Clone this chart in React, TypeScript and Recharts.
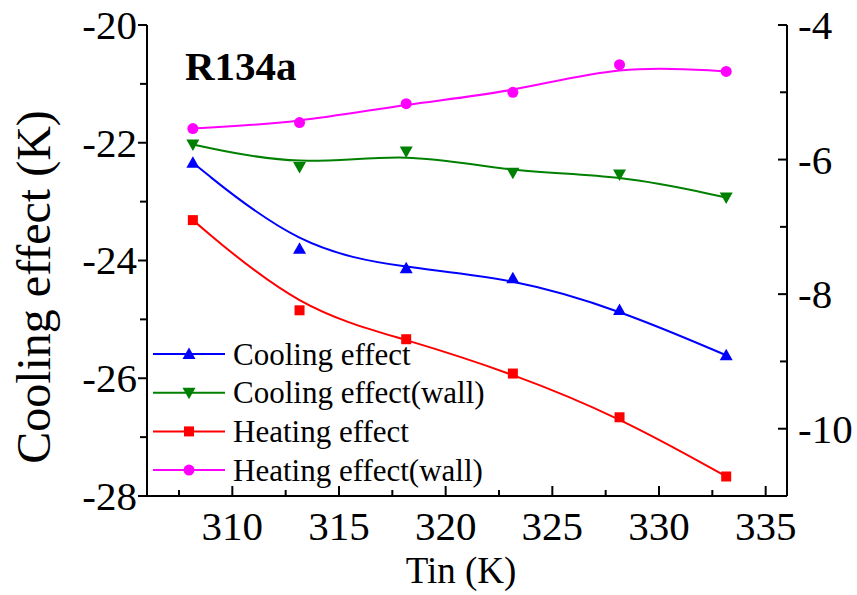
import React from 'react';
import { ComposedChart, Line, XAxis, YAxis, Legend } from 'recharts';

// ---- data ----
const tinK = [308.15, 313.15, 318.15, 323.15, 328.15, 333.15];
const coolingEffect = [-22.34, -23.8, -24.13, -24.3, -24.84, -25.61];
const coolingEffectWall = [-22.03, -22.41, -22.15, -22.51, -22.54, -22.93];
const heatingEffect = [-6.9, -8.24, -8.67, -9.18, -9.83, -10.71];
const heatingEffectWall = [-5.54, -5.45, -5.17, -5.0, -4.59, -4.69];

const xTicks = [307.5, 310, 312.5, 315, 317.5, 320, 322.5, 325, 327.5, 330, 332.5, 335];
const xMajor = [310, 315, 320, 325, 330, 335];
const leftTicks = [-28, -27, -26, -25, -24, -23, -22, -21, -20];
const leftMajor = [-28, -26, -24, -22, -20];
const rightTicks = [-11, -10, -9, -8, -7, -6, -5, -4];
const rightMajor = [-10, -8, -6, -4];

const seriesNames = ['Cooling effect', 'Cooling effect(wall)', 'Heating effect', 'Heating effect(wall)'];
const seriesColors = ['#0000FF', '#008000', '#FF0000', '#FF00FF'];
const seriesShapes = ['up', 'down', 'square', 'circle'];

const data = tinK.map((t, i) => ({
  tin: t,
  cooling: coolingEffect[i],
  coolingWall: coolingEffectWall[i],
  heating: heatingEffect[i],
  heatingWall: heatingEffectWall[i],
}));

const FONT = "'Liberation Serif', 'Times New Roman', serif";
const textStyle = { fontFamily: FONT };

function Marker({ shape, cx, cy, color }: any) {
  if (cx == null || cy == null) return null;
  if (shape === 'up') {
    return <polygon points={`${cx},${cy - 6.5} ${cx - 6.5},${cy + 5} ${cx + 6.5},${cy + 5}`} fill={color} />;
  }
  if (shape === 'down') {
    return <polygon points={`${cx},${cy + 6.5} ${cx - 6.5},${cy - 5} ${cx + 6.5},${cy - 5}`} fill={color} />;
  }
  if (shape === 'square') {
    return <rect x={cx - 5} y={cy - 5} width={10} height={10} fill={color} />;
  }
  return <circle cx={cx} cy={cy} r={5.5} fill={color} />;
}

const makeDot = (shape: string, color: string) => (p: any) => (
  <Marker key={`${shape}-${p.index}`} shape={shape} cx={p.cx} cy={p.cy} color={color} />
);

const BottomTick = ({ x, y, payload }: any) => {
  const major = xMajor.includes(payload.value);
  return (
    <g>
      <line x1={x} x2={x} y1={y} y2={y - (major ? 10 : 6)} stroke="#000" strokeWidth={2} />
      {major && (
        <text x={x} y={y + 44} textAnchor="middle" fontSize={41} fontFamily={FONT} style={textStyle} fill="#000">
          {payload.value}
        </text>
      )}
    </g>
  );
};

const TopTick = ({ x, y, payload }: any) => {
  const major = xMajor.includes(payload.value);
  return <line x1={x} x2={x} y1={y} y2={y + (major ? 10 : 6)} stroke="#000" strokeWidth={2} />;
};

const LeftTick = ({ x, y, payload }: any) => {
  const major = leftMajor.includes(payload.value);
  return (
    <g>
      <line x1={x} x2={x - (major ? 9 : 7)} y1={y} y2={y} stroke="#000" strokeWidth={2} />
      {major && (
        <text x={x - 10} y={y} dy="0.34em" textAnchor="end" fontSize={41} fontFamily={FONT} style={textStyle} fill="#000">
          {payload.value}
        </text>
      )}
    </g>
  );
};

const RightTick = ({ x, y, payload }: any) => {
  const major = rightMajor.includes(payload.value);
  return (
    <g>
      <line x1={x} x2={x - (major ? 9 : 7)} y1={y} y2={y} stroke="#000" strokeWidth={2} />
      {major && (
        <text x={x + 11} y={y} dy="0.34em" textAnchor="start" fontSize={41} fontFamily={FONT} style={textStyle} fill="#000">
          {payload.value}
        </text>
      )}
    </g>
  );
};

const LegendContent = () => (
  <svg width={370} height={165} style={{ overflow: 'visible' }}>
    {seriesNames.map((name, i) => {
      const cy = 24 + i * 38.7;
      return (
        <g key={name}>
          <line x1={13} x2={85} y1={cy} y2={cy} stroke={seriesColors[i]} strokeWidth={2} />
          <Marker shape={seriesShapes[i]} cx={49} cy={cy} color={seriesColors[i]} />
          <text x={93} y={cy + 10.5} fontSize={31} fontFamily={FONT} style={textStyle} fill="#000">
            {name}
          </text>
        </g>
      );
    })}
  </svg>
);

export default function App() {
  return (
    <div style={{ position: 'absolute', left: 0, top: 0, width: 857, height: 595, background: '#fff' }}>
      <ComposedChart width={857} height={595} data={data} margin={{ top: 25, right: 0, bottom: 0, left: 0 }}>
        <XAxis
          xAxisId="bottom"
          dataKey="tin"
          type="number"
          domain={[306, 336]}
          ticks={xTicks}
          interval={0}
          height={99}
          tickSize={0}
          tickMargin={0}
          tick={<BottomTick />}
          axisLine={{ stroke: '#000', strokeWidth: 2 }}
          tickLine={false}
        />
        <XAxis
          xAxisId="top"
          orientation="top"
          dataKey="tin"
          type="number"
          domain={[306, 336]}
          ticks={xTicks}
          interval={0}
          height={0}
          tickSize={0}
          tickMargin={0}
          tick={<TopTick />}
          axisLine={{ stroke: '#000', strokeWidth: 2 }}
          tickLine={false}
        />
        <YAxis
          yAxisId="left"
          type="number"
          domain={[-28, -20]}
          ticks={leftTicks}
          interval={0}
          width={147}
          tickSize={0}
          tickMargin={0}
          tick={<LeftTick />}
          axisLine={{ stroke: '#000', strokeWidth: 2 }}
          tickLine={false}
        />
        <YAxis
          yAxisId="right"
          orientation="right"
          type="number"
          domain={[-11, -4]}
          ticks={rightTicks}
          interval={0}
          width={70}
          tickSize={0}
          tickMargin={0}
          tick={<RightTick />}
          axisLine={{ stroke: '#000', strokeWidth: 2 }}
          tickLine={false}
        />
        <Legend
          layout="horizontal"
          verticalAlign="middle"
          align="center"
          content={<LegendContent />}
          wrapperStyle={{ position: 'absolute', left: 140, top: 330, width: 370, height: 165 }}
        />
        <Line
          xAxisId="bottom"
          yAxisId="left"
          dataKey="cooling"
          name={seriesNames[0]}
          type="basis"
          stroke={seriesColors[0]}
          strokeWidth={2}
          dot={makeDot('up', seriesColors[0])}
          activeDot={false}
          isAnimationActive={false}
        />
        <Line
          xAxisId="bottom"
          yAxisId="left"
          dataKey="coolingWall"
          name={seriesNames[1]}
          type="basis"
          stroke={seriesColors[1]}
          strokeWidth={2}
          dot={makeDot('down', seriesColors[1])}
          activeDot={false}
          isAnimationActive={false}
        />
        <Line
          xAxisId="bottom"
          yAxisId="right"
          dataKey="heating"
          name={seriesNames[2]}
          type="basis"
          stroke={seriesColors[2]}
          strokeWidth={2}
          dot={makeDot('square', seriesColors[2])}
          activeDot={false}
          isAnimationActive={false}
        />
        <Line
          xAxisId="top"
          yAxisId="right"
          dataKey="heatingWall"
          name={seriesNames[3]}
          type="basis"
          stroke={seriesColors[3]}
          strokeWidth={2}
          dot={makeDot('circle', seriesColors[3])}
          activeDot={false}
          isAnimationActive={false}
        />
      </ComposedChart>
      <svg
        width={857}
        height={595}
        style={{ position: 'absolute', left: 0, top: 0, pointerEvents: 'none' }}
      >
        <text x={185} y={80} fontSize={41} fontWeight="bold" fontFamily={FONT} style={textStyle} fill="#000">
          R134a
        </text>
        <text
          x={50}
          y={287}
          transform="rotate(-90, 50, 287)"
          textAnchor="middle"
          fontSize={48}
          fontFamily={FONT}
          style={textStyle}
          fill="#000"
        >
          Cooling effect (K)
        </text>
        <text x={461} y={583} textAnchor="middle" fontSize={37} fontFamily={FONT} style={textStyle} fill="#000">
          Tin (K)
        </text>
      </svg>
    </div>
  );
}
